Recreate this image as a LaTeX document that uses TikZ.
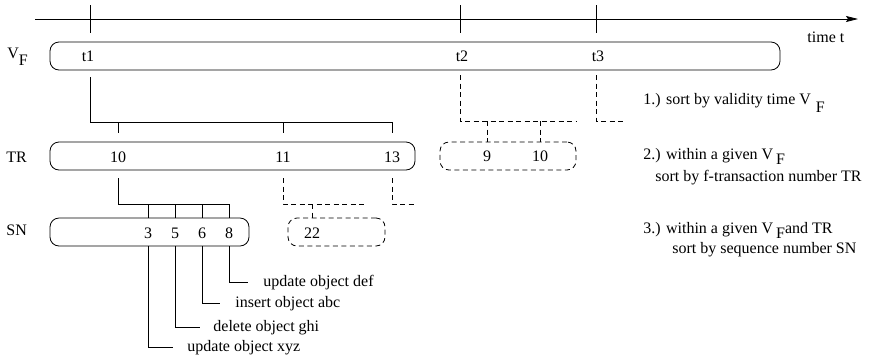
\documentclass[tikz,border=0pt]{standalone}
\usepackage{fontspec}
\setmainfont{Liberation Serif}
\usetikzlibrary{arrows.meta}
\begin{document}
\begin{tikzpicture}[x=1pt,y=-1pt,line width=0.8pt,
  box/.style={draw,rounded corners=9pt,inner sep=0pt,minimum height=28pt},
  dbox/.style={box,dash pattern=on 5pt off 3.5pt},
  dsh/.style={dash pattern=on 5pt off 3.5pt},
  lbl/.style={inner sep=0pt,font=\fontsize{16}{19}\selectfont},
  txt/.style={lbl,anchor=base west},
  num/.style={lbl,anchor=base}]
\useasboundingbox (0,0) rectangle (885,357);
% time axis
\coordinate (ax0) at (35,19);
\coordinate (ax1) at (858,19);
\draw[-{Stealth[length=12pt,width=6pt,inset=2pt]}] (ax0) -- (ax1);
\coordinate (k1a) at (90,5);  \coordinate (k1b) at (90,33);
\coordinate (k2a) at (460,5); \coordinate (k2b) at (460,33);
\coordinate (k3a) at (596,5); \coordinate (k3b) at (596,33);
\draw (k1a) -- (k1b);
\draw (k2a) -- (k2b);
\draw (k3a) -- (k3b);
\node[txt] (timet) at (807,42) {time t};
% boxes
\node[box,minimum width=730pt] (vf) at (415,56) {};
\node[box,minimum width=365pt] (trbox) at (232.5,156) {};
\node[dbox,minimum width=136pt] (dbox1) at (508,156) {};
\node[box,minimum width=199pt] (snbox) at (149.5,232) {};
\node[dbox,minimum width=97pt] (dbox2) at (336.5,232) {};
% row labels
\node[txt] (vflab) at (7,58.5) {V\raisebox{-7pt}{F}};
\node[txt] (trlab) at (6,162.5) {TR};
\node[txt] (snlab) at (6,235.5) {SN};
% values
\node[num] (t1) at (88,61.5) {t1};
\node[num] (t2) at (462,61.5) {t2};
\node[num] (t3) at (598,61.5) {t3};
\node[num] (n10) at (118,162.5) {10};
\node[num] (n11) at (283,162.5) {11};
\node[num] (n13) at (392,162.5) {13};
\node[num] (d9) at (487,161.5) {9};
\node[num] (d10) at (540,161.5) {10};
\node[num] (s3) at (148,238.5) {3};
\node[num] (s5) at (175,238.5) {5};
\node[num] (s6) at (202,238.5) {6};
\node[num] (s8) at (229,238.5) {8};
\node[num] (d22) at (312,238.5) {22};
% solid tree from t1
\coordinate (a0) at (90,77);
\coordinate (a1) at (90,122);
\coordinate (a2) at (392,122);
\draw (a0) -- (a1) -- (a2);
\draw (a1 -| n10) -- ++(0,11);
\draw (a1 -| n11) -- ++(0,11);
\draw (a2) -- ++(0,11);
% dashed tree from t2
\coordinate (b0) at (460,75);
\coordinate (b1) at (460,121);
\coordinate (b2) at (577,121);
\draw[dsh] (b0) -- (b1) -- (b2);
\draw[dsh] (b1 -| d9) -- (dbox1.north -| d9);
\draw[dsh] (b1 -| d10) -- (dbox1.north -| d10);
% dashed from t3
\coordinate (c0) at (596,75);
\coordinate (c1) at (596,121);
\coordinate (c2) at (623,121);
\draw[dsh] (c0) -- (c1) -- (c2);
% solid tree from 10
\coordinate (e0) at (118,178);
\coordinate (e1) at (118,204);
\coordinate (e2) at (229,204);
\draw (e0) -- (e1) -- (e2);
\draw (e1 -| s3) -- (snbox.north -| s3);
\draw (e1 -| s5) -- (snbox.north -| s5);
\draw (e1 -| s6) -- (snbox.north -| s6);
\draw (e2) -- (snbox.north -| s8);
% dashed from 11
\coordinate (f0) at (283,178);
\coordinate (f1) at (283,204);
\coordinate (f2) at (367,204);
\draw[dsh] (f0) -- (f1) -- (f2);
\draw[dsh] (f1 -| d22) -- (dbox2.north -| d22);
% dashed from 13
\coordinate (g0) at (392,178);
\coordinate (g1) at (392,204);
\coordinate (g2) at (416,204);
\draw[dsh] (g0) -- (g1) -- (g2);
% leaders
\node[txt] (op1) at (187,351.5) {update object xyz};
\node[txt] (op2) at (213,331.5) {delete object ghi};
\node[txt] (op3) at (235,307.5) {insert object abc};
\node[txt] (op4) at (263,286.5) {update object def};
\coordinate (h1) at (173,347);
\coordinate (h2) at (200,327);
\coordinate (h3) at (220,303);
\coordinate (h4) at (248,282);
\draw (snbox.south -| s3) |- (h1);
\draw (snbox.south -| s5) |- (h2);
\draw (snbox.south -| s6) |- (h3);
\draw (snbox.south -| s8) |- (h4);
% explanations
\node[txt] (r1) at (643,104.5) {1.) sort by validity time V\hspace{5pt}\raisebox{-8pt}{F}};
\node[txt] (r2a) at (643,159.5) {2.) within a given V\hspace{3pt}\raisebox{-4.5pt}{F}};
\node[txt] (r2b) at (655,181) {sort by f-transaction number TR};
\node[txt] (r3a) at (643,233.5) {3.) within a given V\hspace{3pt}\raisebox{-5pt}{F}and TR};
\node[txt] (r3b) at (672,253.5) {sort by sequence number SN};
\end{tikzpicture}
\end{document}
